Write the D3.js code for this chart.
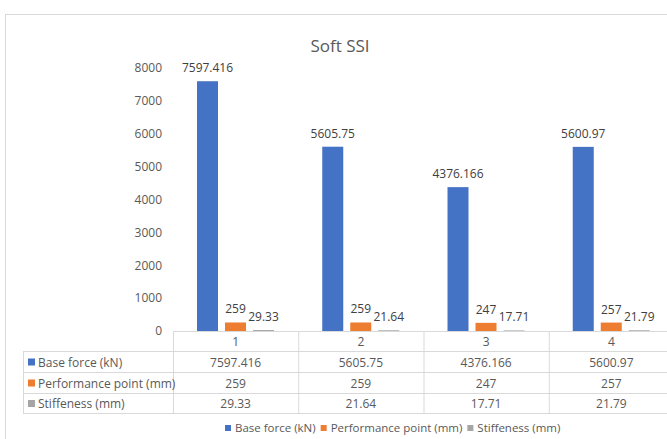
<!DOCTYPE html>
<html>
<head>
<meta charset="utf-8">
<script src="https://cdn.jsdelivr.net/npm/d3@7"></script>
<style>
  body { margin: 0; background: #fff; }
  svg text { font-family: "Open Sans", "Noto Sans", sans-serif; fill: #595959; }
</style>
</head>
<body>
<div id="chart"></div>
<script>
// data
var categories = ["1", "2", "3", "4"];
var seriesNames = ["Base force (kN)", "Performance point (mm)", "Stiffeness (mm)"];
var baseForce = [7597.416, 5605.75, 4376.166, 5600.97];
var perfPoint = [259, 259, 247, 257];
var stiffness = [29.33, 21.64, 17.71, 21.79];
var yTicks = [0, 1000, 2000, 3000, 4000, 5000, 6000, 7000, 8000];
var colors = ["#4472C4", "#ED7D31", "#A5A5A5"];

var seriesValues = [baseForce, perfPoint, stiffness];

var svgWidth = 667;
var svgHeight = 439;

var svg = d3.select("#chart")
  .append("svg")
  .attr("width", svgWidth)
  .attr("height", svgHeight);

// chart border
svg.append("rect")
  .attr("x", 5.5)
  .attr("y", 14.5)
  .attr("width", 700)
  .attr("height", 500)
  .attr("fill", "none")
  .attr("stroke", "#d9d9d9");

// title
svg.append("text")
  .attr("x", 340)
  .attr("y", 52)
  .attr("text-anchor", "middle")
  .style("font-size", "17px")
  .text("Soft SSI");

// scales
var x0 = d3.scaleBand()
  .domain(categories)
  .range([173, 674]);

var x1 = d3.scaleBand()
  .domain(seriesNames)
  .range([24, 101])
  .paddingInner(0.25);

var y = d3.scaleLinear()
  .domain([0, 8000])
  .range([331, 68]);

// y axis (labels only)
var leftAxis = d3.axisLeft(y)
  .tickValues(yTicks)
  .tickFormat(d3.format("d"))
  .tickSize(0)
  .tickPadding(11);
var yAxis = svg.append("g")
  .attr("transform", "translate(173,0)")
  .call(leftAxis);
yAxis.select(".domain").remove();
yAxis.selectAll("text")
  .style("font-size", "12px")
  .style("fill", "#595959")
  .style("font-family", "'Open Sans', sans-serif");

// bars
var groups = svg.selectAll("g.cat")
  .data(categories)
  .enter().append("g")
  .attr("class", "cat")
  .attr("transform", function(d) { return "translate(" + x0(d) + ",0)"; });

seriesNames.forEach(function(name, si) {
  groups.append("rect")
    .attr("x", x1(name))
    .attr("width", x1.bandwidth())
    .attr("y", function(d, i) { return y(seriesValues[si][i]); })
    .attr("height", function(d, i) { return y(0) - y(seriesValues[si][i]); })
    .attr("fill", colors[si]);

  groups.append("text")
    .attr("x", x1(name) + x1.bandwidth() / 2)
    .attr("y", function(d, i) { return y(seriesValues[si][i]) - 9; })
    .attr("text-anchor", "middle")
    .style("font-size", "12px")
    .style("fill", "#404040")
    .text(function(d, i) { return seriesValues[si][i]; });
});

// data table
var tableLeft = 23;
var rowTops = [331, 351, 372, 393, 413];
var tableRight = 700;
var lineColor = "#d9d9d9";

var tbl = svg.append("g");

// axis line / header top
tbl.append("line")
  .attr("x1", 173).attr("x2", tableRight)
  .attr("y1", rowTops[0] + 0.5).attr("y2", rowTops[0] + 0.5)
  .attr("stroke", lineColor);

rowTops.slice(1).forEach(function(t) {
  tbl.append("line")
    .attr("x1", tableLeft).attr("x2", tableRight)
    .attr("y1", t + 0.5).attr("y2", t + 0.5)
    .attr("stroke", lineColor);
});

tbl.append("line")
  .attr("x1", tableLeft + 0.5).attr("x2", tableLeft + 0.5)
  .attr("y1", rowTops[1]).attr("y2", rowTops[4])
  .attr("stroke", lineColor);

categories.concat(["end"]).forEach(function(c, i) {
  var xx = i < categories.length ? x0(c) : x0.range()[1];
  tbl.append("line")
    .attr("x1", xx + 0.5).attr("x2", xx + 0.5)
    .attr("y1", rowTops[0]).attr("y2", rowTops[4])
    .attr("stroke", lineColor);
});

// header row
tbl.selectAll("text.head")
  .data(categories)
  .enter().append("text")
  .attr("class", "head")
  .attr("x", function(d) { return x0(d) + x0.bandwidth() / 2; })
  .attr("y", (rowTops[0] + rowTops[1]) / 2 + 1)
  .attr("dy", "0.35em")
  .attr("text-anchor", "middle")
  .style("font-size", "12px")
  .text(function(d) { return d; });

seriesNames.forEach(function(name, si) {
  var cy = (rowTops[si + 1] + rowTops[si + 2]) / 2 + 1;
  tbl.append("rect")
    .attr("x", 28).attr("y", cy - 4)
    .attr("width", 7).attr("height", 7)
    .attr("fill", colors[si]);
  tbl.append("text")
    .attr("x", 38).attr("y", cy)
    .attr("dy", "0.35em")
    .style("font-size", "12px")
    .text(name);
  tbl.selectAll("text.v" + si)
    .data(categories)
    .enter().append("text")
    .attr("x", function(d) { return x0(d) + x0.bandwidth() / 2; })
    .attr("y", cy)
    .attr("dy", "0.35em")
    .attr("text-anchor", "middle")
    .style("font-size", "12px")
    .text(function(d, i) { return seriesValues[si][i]; });
});

// legend
var legend = svg.append("g").attr("transform", "translate(0,428)");
var lx = 225;
seriesNames.forEach(function(name, si) {
  legend.append("rect")
    .attr("x", lx).attr("y", -3)
    .attr("width", 6).attr("height", 6)
    .attr("fill", colors[si]);
  var t = legend.append("text")
    .attr("x", lx + 10).attr("y", 0)
    .attr("dy", "0.35em")
    .style("font-size", "11.5px")
    .text(name);
  lx += 10 + t.node().getComputedTextLength() + 5;
});
</script>
</body>
</html>
